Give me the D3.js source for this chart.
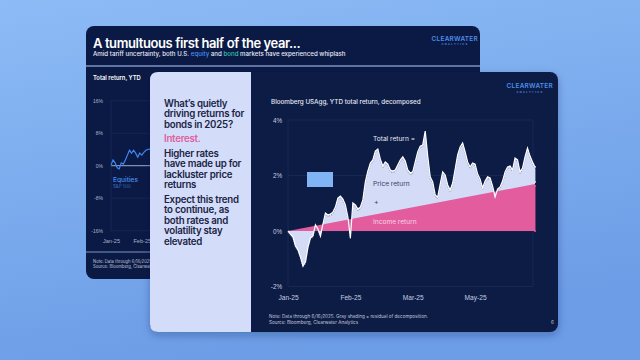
<!DOCTYPE html>
<html><head><meta charset="utf-8">
<script src="https://cdn.jsdelivr.net/npm/d3@7"></script>
<style>html,body{margin:0;padding:0;background:#7eb0f2;}svg{display:block;font-family:Inter,"Noto Sans",sans-serif;}</style>
</head><body><svg id="c" width="640" height="360"></svg>
<script>
// ---- data ----
const mainTitle = "Bloomberg USAgg, YTD total return, decomposed";
const yTicksMain = [-2, 0, 2, 4];
const xTickIdx = [0, 25, 50, 75];
const xTickLabels = ["Jan-25", "Feb-25", "Mar-25", "May-25"];
// YTD total return (%), one value per sampled trading day
const totalReturn = [0, -0.11, -0.22, -0.54, -0.68, -0.94, -1.26, -1.12, -0.58, -0.25,
  -0.18, 0.22, 0.07, -0.18, 0.25, 0.65, 0.58, 0.61, 0.68, 0.86,
  1.19, 1.26, 1.15, 0.94, 0.50, -0.25, 1.01, 0.94, 0.79, 0.86,
  1.12, 1.77, 2.16, 2.45, 2.56, 2.88, 2.95, 2.59, 2.34, 2.49,
  2.41, 2.20, 2.16, 2.20, 2.38, 2.56, 2.67, 2.52, 2.20, 2.09,
  2.13, 2.49, 2.85, 3.06, 3.10, 3.60, 2.70, 1.95, 1.77, 1.30,
  1.22, 1.69, 2.13, 2.02, 1.66, 1.48, 1.73, 2.23, 2.74, 3.03,
  3.17, 2.85, 2.49, 2.31, 2.45, 2.41, 2.05, 1.87, 1.55, 1.80,
  1.95, 1.91, 1.62, 1.23, 1.51, 1.59, 1.80, 2.13, 2.31, 2.34,
  2.20, 2.63, 2.56, 2.13, 2.27, 2.67, 2.99, 2.70, 2.49, 2.31];
// income return (%), start and end of the period
const incomeIdx = [0, 99];
const incomeReturn = [0, 1.69];

const backTitle = "A tumultuous first half of the year...";
const backYTicks = [16, 8, 0, -8, -16];
const backXTickIdx = [0, 15];
const backXTickLabels = ["Jan-25", "Feb-25"];
const equities = [0.2, 1.4, 0.7, -0.5, -0.8, 0.7, 0.4, 1.4, 2.6, 3.8,
  3.1, 3.8, 3.1, 2.1, 3.1, 2.6, 3.3, 3.8, 4.0, 4.1];

const panelLines = [
  {t: "What\u2019s quietly", c: "#1b2444"},
  {t: "driving returns for", c: "#1b2444"},
  {t: "bonds in 2025?", c: "#1b2444", gap: 4},
  {t: "Interest.", c: "#e0609f", gap: 4.5},
  {t: "Higher rates", c: "#1b2444"},
  {t: "have made up for", c: "#1b2444"},
  {t: "lackluster price", c: "#1b2444"},
  {t: "returns", c: "#1b2444", gap: 4.5},
  {t: "Expect this trend", c: "#1b2444"},
  {t: "to continue, as", c: "#1b2444"},
  {t: "both rates and", c: "#1b2444"},
  {t: "volatility stay", c: "#1b2444"},
  {t: "elevated", c: "#1b2444"}
];

// ---- drawing ----
const svg = d3.select("#c");
const defs = svg.append("defs");
const g1 = defs.append("linearGradient").attr("id","bg").attr("x1",0).attr("y1",0).attr("x2",0.3).attr("y2",1);
g1.append("stop").attr("offset","0%").attr("stop-color","#8dbbf6");
g1.append("stop").attr("offset","100%").attr("stop-color","#6c9de6");
svg.append("rect").attr("width",640).attr("height",360).attr("fill","url(#bg)");
const sh = defs.append("filter").attr("id","sh").attr("x","-10%").attr("y","-10%").attr("width","130%").attr("height","130%");
sh.append("feDropShadow").attr("dx",0).attr("dy",3).attr("stdDeviation",4).attr("flood-color","#0a1a50").attr("flood-opacity",0.3);

const navy = "#0b1a45";
// back card
svg.append("rect").attr("x",86).attr("y",26).attr("width",394).attr("height",253).attr("rx",8).attr("fill",navy);
svg.append("line").attr("x1",86).attr("x2",480).attr("y1",66).attr("y2",66).attr("stroke","#7d92c4").attr("stroke-width",1.5);
svg.append("line").attr("x1",86).attr("x2",152).attr("y1",252).attr("y2",252).attr("stroke","#7d92c4").attr("stroke-width",1.2);
svg.append("text").attr("x",93).attr("y",47.5).attr("fill","#fff").attr("font-size",13).attr("font-weight",600).attr("letter-spacing",-0.4).text(backTitle);
const sub = svg.append("text").attr("x",93).attr("y",55.5).attr("fill","#e6e9f5").attr("font-size",6.15).attr("font-weight",500);
sub.append("tspan").text("Amid tariff uncertainty, both U.S. ");
sub.append("tspan").attr("fill","#4a8ff0").text("equity");
sub.append("tspan").text(" and ");
sub.append("tspan").attr("fill","#35c2ad").text("bond");
sub.append("tspan").text(" markets have experienced whiplash");
function logo(x, y) {
  svg.append("text").attr("x",x).attr("y",y).attr("text-anchor","end").attr("fill","#4d8fe8").attr("font-size",6.4).attr("font-weight",600).attr("letter-spacing",0.3).text("CLEARWATER");
  svg.append("text").attr("x",x-23).attr("y",y+4.4).attr("text-anchor","middle").attr("fill","#4d8fe8").attr("font-size",2.6).attr("font-weight",700).attr("letter-spacing",1.3).text("ANALYTICS");
}
logo(478, 41);
svg.append("text").attr("x",93).attr("y",79.5).attr("fill","#fff").attr("font-size",5.8).attr("font-weight",600).text("Total return, YTD");

const yE = d3.scaleLinear().domain([-16,16]).range([230.7,100.7]);
const xE = d3.scaleLinear().domain([0, equities.length-1]).range([111,150]);
const back = svg.append("g");
back.selectAll(".bg").data(backYTicks).join("line").attr("x1",111).attr("x2",152).attr("y1",d=>yE(d)).attr("y2",d=>yE(d))
  .attr("stroke",d=>d===0?"#c9d1ea":"#1f2d5a").attr("stroke-width",d=>d===0?0.8:0.6);
back.append("line").attr("x1",111).attr("x2",111).attr("y1",100).attr("y2",232).attr("stroke","#1f2d5a").attr("stroke-width",0.6);
back.append("g").attr("transform","translate(103,0)").call(d3.axisLeft(yE).tickValues(backYTicks).tickSize(0).tickPadding(0).tickFormat(d=>d+"%"))
  .call(a=>{a.select(".domain").remove(); a.selectAll("text").attr("fill","#aab3cc").attr("font-size",5).attr("font-family",null);});
back.append("g").attr("transform","translate(0,236)").call(d3.axisBottom(xE).tickValues(backXTickIdx).tickSize(0).tickFormat((d,i)=>backXTickLabels[i]))
  .call(a=>{a.select(".domain").remove(); a.selectAll("text").attr("fill","#aab3cc").attr("font-size",5.6).attr("font-family",null);});
back.append("path").datum(equities).attr("fill","none").attr("stroke","#3f86ee").attr("stroke-width",1.2)
  .attr("d", d3.line().x((d,i)=>xE(i)).y(d=>yE(d)));
back.append("text").attr("x",113).attr("y",181.7).attr("fill","#4a8ff0").attr("font-size",6.6).attr("font-weight",500).text("Equities");
back.append("text").attr("x",113).attr("y",188.3).attr("fill","#3b6fc0").attr("font-size",4.4).text("S&P 500");
back.append("text").attr("x",93).attr("y",262.7).attr("fill","#c0c6da").attr("font-size",4.2).text("Note: Data through 6/16/2025.");
back.append("text").attr("x",93).attr("y",268.3).attr("fill","#c0c6da").attr("font-size",4.2).text("Source: Bloomberg, Clearwater Analytics");

// front card
svg.append("rect").attr("x",150).attr("y",72).attr("width",408).attr("height",260).attr("rx",8).attr("fill",navy).attr("filter","url(#sh)");
svg.append("path").attr("d","M158,72 H251 V332 H158 Q150,332 150,324 V80 Q150,72 158,72 Z").attr("fill","#d3dcf9");

let py = 106.7;
panelLines.forEach(l => {
  svg.append("text").attr("x",164).attr("y",py).attr("fill",l.c).attr("font-size",9.7).attr("font-weight",600).attr("letter-spacing",-0.25).text(l.t);
  py += 10.4 + (l.gap||0);
});

logo(553, 88.3);
svg.append("text").attr("x",271).attr("y",104.3).attr("fill","#e6e9f5").attr("font-size",6.3).attr("font-weight",500).text(mainTitle);

const x = d3.scaleLinear().domain([0, totalReturn.length-1]).range([288,535]);
const y = d3.scaleLinear().domain([-2,4]).range([286.5,120]);
const ch = svg.append("g");
ch.selectAll(".gr").data(yTicksMain).join("line").attr("x1",288).attr("x2",533).attr("y1",d=>y(d)).attr("y2",d=>y(d)).attr("stroke","#1e2c58").attr("stroke-width",0.7);
ch.append("line").attr("x1",288).attr("x2",288).attr("y1",y(4)).attr("y2",y(-2)).attr("stroke","#1e2c58").attr("stroke-width",0.7);
ch.append("line").attr("x1",533).attr("x2",533).attr("y1",y(4)).attr("y2",y(-2)).attr("stroke","#1e2c58").attr("stroke-width",0.7);
ch.append("g").attr("transform","translate(282,0)").call(d3.axisLeft(y).tickValues(yTicksMain).tickSize(0).tickPadding(0).tickFormat(d=>d+"%"))
  .call(a=>{a.select(".domain").remove(); a.selectAll("text").attr("fill","#c8cde0").attr("font-size",6.3).attr("font-family",null);});
ch.append("g").attr("transform","translate(0,292)").call(d3.axisBottom(x).tickValues(xTickIdx).tickSize(0).tickFormat((d,i)=>xTickLabels[i]))
  .call(a=>{a.select(".domain").remove(); a.selectAll("text").attr("fill","#c8cde0").attr("font-size",6.6).attr("font-family",null);});

ch.append("path").datum(totalReturn).attr("fill","#d3dbf6")
  .attr("d", d3.area().x((d,i)=>x(i)).y0(y(0)).y1(d=>y(d)));
ch.append("path").datum(incomeReturn).attr("fill","#e35d9e")
  .attr("d", d3.area().x((d,i)=>x(incomeIdx[i])).y0(y(0)).y1(d=>y(d)));
ch.append("path").datum(totalReturn).attr("fill","none").attr("stroke","#767c94").attr("stroke-width",0.9).attr("stroke-dasharray","1.2,1.4")
  .attr("transform","translate(0,1.6)").attr("d", d3.line().x((d,i)=>x(i)).y(d=>y(d)));
ch.append("path").datum(totalReturn).attr("fill","none").attr("stroke","#ffffff").attr("stroke-width",1.2)
  .attr("d", d3.line().x((d,i)=>x(i)).y(d=>y(d)));

// end-of-period decomposition markers
const xe = x(totalReturn.length-1);
const tEnd = totalReturn[totalReturn.length-1], iEnd = incomeReturn[incomeReturn.length-1];
ch.append("line").attr("x1",xe).attr("x2",xe).attr("y1",y(tEnd)+1.5).attr("y2",y(iEnd)-1.5).attr("stroke","#d3dbf6").attr("stroke-width",0.8);
ch.append("line").attr("x1",xe).attr("x2",xe).attr("y1",y(iEnd)+1.5).attr("y2",y(0)-1).attr("stroke","#e35d9e").attr("stroke-width",0.9);
[[tEnd,"#d3dbf6"],[iEnd,"#d3dbf6"],[iEnd,"#e35d9e"],[0,"#e35d9e"]].forEach(([v,c],k)=>{
  ch.append("circle").attr("cx",xe).attr("cy",y(v)+(k===2?2:k===1?-2:0)).attr("r",1).attr("fill",c);
});

ch.append("text").attr("x",373).attr("y",141).attr("fill","#e8eaf5").attr("font-size",6.6).text("Total return =");
ch.append("text").attr("x",373).attr("y",186.3).attr("fill","#353d5e").attr("font-size",6.6).text("Price return");
ch.append("text").attr("x",374).attr("y",203.5).attr("fill","#353d5e").attr("font-size",7).text("+");
ch.append("text").attr("x",373).attr("y",224.3).attr("fill","#f7d3e6").attr("font-size",6.6).text("Income return");
ch.append("rect").attr("x",307).attr("y",172).attr("width",26).attr("height",15).attr("fill","#7fb5f5");

svg.append("text").attr("x",269).attr("y",318).attr("fill","#c0c6da").attr("font-size",4.6).text("Note: Data through 6/16/2025. Gray shading = residual of decomposition.");
svg.append("text").attr("x",269).attr("y",324.3).attr("fill","#c0c6da").attr("font-size",4.6).text("Source: Bloomberg, Clearwater Analytics");
svg.append("text").attr("x",551).attr("y",324.3).attr("fill","#c0c6da").attr("font-size",4.6).text("6");
</script></body></html>
